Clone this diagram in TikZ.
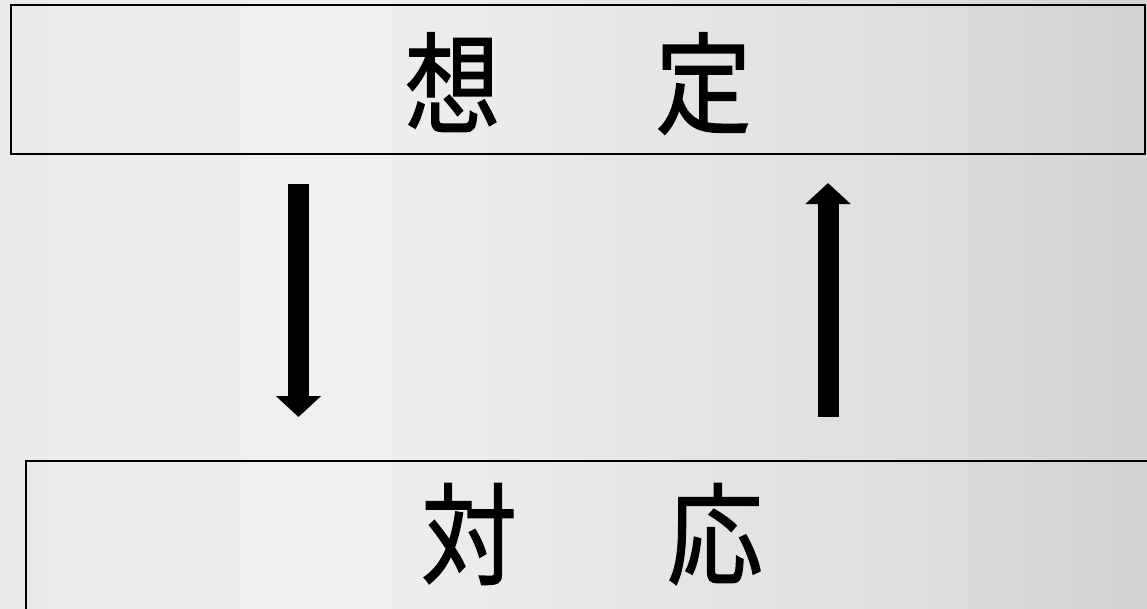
\documentclass[tikz,border=0pt]{standalone}
\usepackage{fontspec}
\usepackage{graphicx}
\newfontfamily\cjk[FakeBold=1.2]{Noto Sans CJK JP}
\usetikzlibrary{arrows.meta}
\definecolor{mA}{HTML}{E2E2E2}
\definecolor{mB}{HTML}{F0F0F0}
\definecolor{mC}{HTML}{DEDEDE}
\definecolor{mD}{HTML}{B6B6B6}
\pgfdeclarehorizontalshading{metal}{100bp}{color(0bp)=(mA); color(40bp)=(mB); color(65bp)=(mC); color(100bp)=(mD)}
\tikzset{
  panel/.style={draw=black, line width=1.5pt, inner sep=0pt},
  label/.style={font=\cjk\fontsize{96}{96}\selectfont, inner sep=0pt},
  blockarrow/.style={line width=21pt, -{Triangle[width=44pt,length=21pt]}, line cap=butt}
}
\begin{document}
\begin{tikzpicture}[x=1pt,y=-1pt]
\useasboundingbox (0,0) rectangle (1147,608);
\clip (0,0) rectangle (1147,608);
\shade[shading=metal] (0,0) rectangle (1147,608);
\node[panel, minimum width=1134pt, minimum height=149pt] (top) at (578,79.5) {};
\node[panel, minimum width=1132pt, minimum height=150pt] (bot) at (592,536) {};
\node[label] (t) at (578,83.5) {\scalebox{1}[1.15]{想\hspace{155pt}定}};
\node[label] (b) at (592,534) {\scalebox{1}[1.15]{対\hspace{150pt}応}};
\coordinate (l1) at (298.5,184);
\coordinate (l2) at (298.5,417);
\coordinate (r1) at (828,417);
\coordinate (r2) at (828,183);
\draw[blockarrow] (l1) -- (l2);
\draw[blockarrow] (r1) -- (r2);
\end{tikzpicture}
\end{document}
